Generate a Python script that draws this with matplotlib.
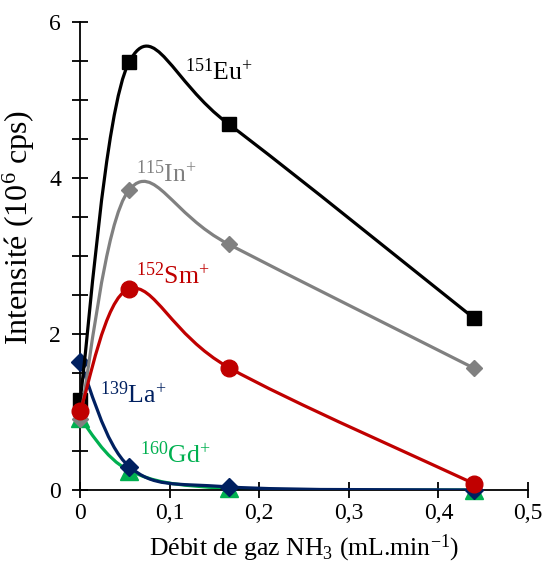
import numpy as np
import matplotlib
matplotlib.use("Agg")
import matplotlib.pyplot as plt
from matplotlib.path import Path
from matplotlib.patches import PathPatch
from matplotlib.ticker import MultipleLocator, FuncFormatter

plt.rcParams['font.family'] = ['Liberation Serif', 'DejaVu Serif']
plt.rcParams['mathtext.fontset'] = 'custom'
plt.rcParams['mathtext.rm'] = 'Liberation Serif'
plt.rcParams['mathtext.it'] = 'Liberation Serif:italic'

flow = [0.0, 0.055, 0.166, 0.44]
eu = [1.15, 5.49, 4.69, 2.20]
in_ = [0.91, 3.85, 3.15, 1.56]
sm = [1.01, 2.58, 1.57, 0.08]
la = [1.64, 0.30, 0.04, 0.00]
gd = [0.92, 0.25, 0.02, 0.00]

series = [
    ("gd", gd, '#00B050', '^', 13, r'$^{160}$Gd$^{+}$', (0.067, 0.45)),
    ("la", la, '#002060', 'D', 9, r'$^{139}$La$^{+}$', (0.022, 1.22)),
    ("eu", eu, '#000000', 's', 10, r'$^{151}$Eu$^{+}$', (0.117, 5.36)),
    ("in", in_, '#808080', 'D', 8, r'$^{115}$In$^{+}$', (0.062, 4.05)),
    ("sm", sm, '#C00000', 'o', 12, r'$^{152}$Sm$^{+}$', (0.062, 2.75)),
]

fig = plt.figure(figsize=(5.45, 5.65), dpi=100)
ax = fig.add_axes([80/545, 75/565, 448/545, 468/565])
ax.set_xlim(0, 0.5)
ax.set_ylim(0, 6)

sx, sy = 448/0.5, 468/6.0

def smooth_path(xs, ys, t=1/6):
    P = np.column_stack([np.array(xs)*sx, np.array(ys)*sy])
    n = len(P)
    verts = [P[0]]
    codes = [Path.MOVETO]
    for i in range(n-1):
        p0 = P[i-1] if i > 0 else P[i]
        p1 = P[i]
        p2 = P[i+1]
        p3 = P[i+2] if i+2 < n else P[i+1]
        c1 = p1 + (p2 - p0)*t
        c2 = p2 - (p3 - p1)*t
        verts += [c1, c2, p2]
        codes += [Path.CURVE4]*3
    V = np.array(verts)
    V[:, 0] /= sx
    V[:, 1] /= sy
    return Path(V, codes)

for z, (name, ys, col, mk, ms, lab, pos) in enumerate(series):
    patch = PathPatch(smooth_path(flow, ys), facecolor='none', edgecolor=col,
                      lw=2.3, zorder=2+z*2, capstyle='round', joinstyle='round')
    ax.add_patch(patch)
    ax.plot(flow, ys, ls='none', marker=mk, ms=ms, color=col, mec=col,
            zorder=3+z*2, clip_on=False)
    ax.text(pos[0], pos[1], lab, color=col, fontsize=18.5, ha='left', va='center')

for s in ['top', 'right']:
    ax.spines[s].set_visible(False)
for s in ['left', 'bottom']:
    ax.spines[s].set_linewidth(1.3)

ax.xaxis.set_major_locator(MultipleLocator(0.1))
ax.yaxis.set_major_locator(MultipleLocator(2))
ax.yaxis.set_minor_locator(MultipleLocator(0.5))
ax.xaxis.set_major_formatter(FuncFormatter(lambda v, p: ('%g' % round(v, 2)).replace('.', ',')))
ax.yaxis.set_major_formatter(FuncFormatter(lambda v, p: '%d' % round(v)))
ax.tick_params(which='both', direction='inout', length=11, width=1.3, labelsize=17)
ax.tick_params(axis='y', which='minor', length=11)
ax.tick_params(axis='x', pad=4)
ax.tick_params(axis='y', pad=8)

ax.set_xlabel(r'Débit de gaz NH$_3$ (mL.min$^{\mathregular{-1}}$)', fontsize=18.5)
ax.set_ylabel(r'Intensité (10$^6$ cps)', fontsize=23)
ax.xaxis.set_label_coords(0.5, -0.092)
ax.yaxis.set_label_coords(-0.097, 0.56)

fig.savefig('out.png', dpi=100)
